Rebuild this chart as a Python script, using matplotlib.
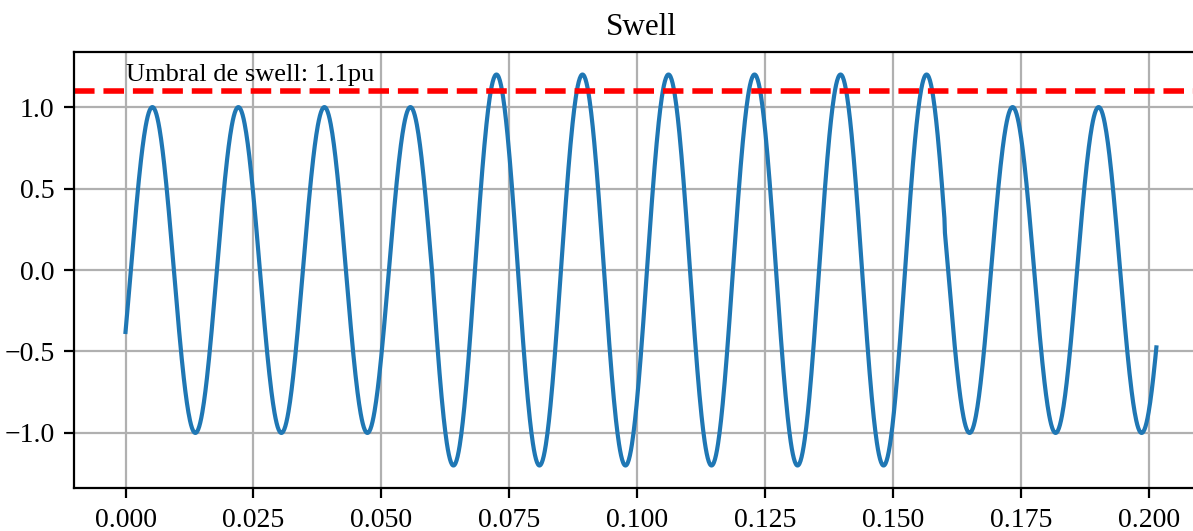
import numpy as np
import matplotlib.pyplot as plt

plt.rcParams["font.family"] = ["Liberation Serif", "DejaVu Serif"]

# parametros de la senal
T_INICIO = 0.0
T_FIN = 0.2014
FRECUENCIA = 59.5          # Hz
FASE = -0.39               # rad
N_MUESTRAS = 2000

# ventana del swell y amplitudes (pu)
VENTANA_SWELL = [0.06, 0.16]
AMP_NORMAL = 1.0
AMP_SWELL = 1.2

UMBRAL = 1.1
TEXTO_UMBRAL = "Umbral de swell: 1.1pu"
TITULO = "Swell"

XTICKS = [0.000, 0.025, 0.050, 0.075, 0.100, 0.125, 0.150, 0.175, 0.200]
YTICKS = [-1.0, -0.5, 0.0, 0.5, 1.0]

# SENAL
t = np.linspace(T_INICIO, T_FIN, N_MUESTRAS)
amp = np.where((t >= VENTANA_SWELL[0]) & (t < VENTANA_SWELL[1]), AMP_SWELL, AMP_NORMAL)
v = amp * np.sin(2 * np.pi * FRECUENCIA * t + FASE)

# PLOT
fig = plt.figure(figsize=(1193 / 200, 531 / 200), dpi=200)
ax = fig.add_axes([0.062, 0.0804, 0.9505, 0.8222])

ax.plot(t, v, color="#1f77b4", lw=1.5)
ax.axhline(UMBRAL, color="red", linestyle="--", lw=2)
ax.text(0.0, 1.16, TEXTO_UMBRAL, fontsize=9.5)

ax.set_title(TITULO, fontsize=11.2)
ax.set_xticks(XTICKS)
ax.set_xticklabels([f"{x:.3f}" for x in XTICKS])
ax.set_yticks(YTICKS)
ax.set_ylim(-1.34, 1.34)
ax.grid(True)

fig.savefig("out.png", dpi=200)
plt.close(fig)
